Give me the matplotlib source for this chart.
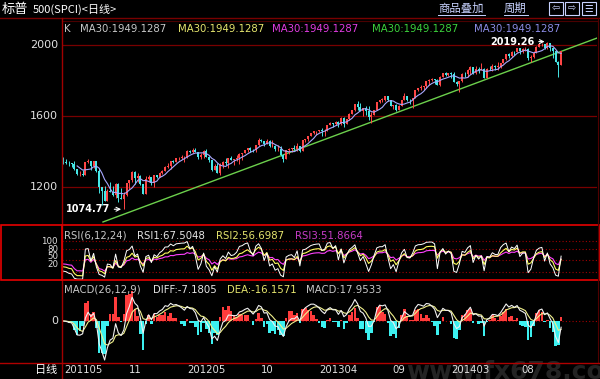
import numpy as np
import pandas as pd
import matplotlib
matplotlib.use("Agg")
import matplotlib.pyplot as plt
from matplotlib.lines import Line2D
from matplotlib.patches import Rectangle
from matplotlib.transforms import blended_transform_factory

plt.rcParams['font.family'] = ['DejaVu Sans', 'Noto Sans CJK SC']

# S&P 500 weekly bars, week ending 2011-05-06 .. 2014-10-24
close = [
    1340, 1338, 1333, 1331, 1300, 1271, 1271, 1268, 1340, 1344, 1316, 1345, 1292,
    1199, 1179, 1124, 1177, 1174, 1154, 1216, 1136, 1131, 1155, 1225, 1238, 1285,
    1253, 1264, 1216, 1159, 1244, 1255, 1220, 1265, 1258,
    1278, 1289, 1315, 1316, 1345, 1343, 1362, 1366, 1370, 1371, 1404, 1397, 1408,
    1398, 1370, 1378, 1403, 1369, 1353, 1295, 1318, 1278, 1325, 1343, 1335, 1362,
    1355, 1357, 1363, 1386, 1391, 1406, 1418, 1411, 1407, 1438, 1466, 1460, 1441,
    1461, 1429, 1433, 1412, 1414, 1380, 1360, 1409, 1416, 1418, 1414, 1430, 1402,
    1466, 1472, 1486, 1503, 1513, 1518, 1520, 1516, 1518, 1551, 1561, 1556, 1569,
    1553, 1588, 1555, 1582, 1614, 1633, 1667, 1650, 1631, 1643, 1626, 1593, 1606,
    1632, 1680, 1692, 1692, 1710, 1691, 1656, 1664, 1633, 1655, 1688, 1710, 1692,
    1691, 1703, 1745, 1760, 1762, 1770, 1798, 1804, 1806, 1805, 1775, 1818, 1841,
    1831, 1842, 1839, 1790, 1783, 1797, 1838, 1836, 1859, 1878, 1841, 1866, 1857,
    1865, 1815, 1865, 1863, 1881, 1878, 1878, 1900, 1924, 1949, 1937, 1963, 1961,
    1985, 1968, 1978, 1978, 1925, 1931, 1955, 1988, 2003, 2008, 1985, 2010, 1982,
    1968, 1906, 1887, 1964,
]
high = [
    1370, 1359, 1346, 1337, 1346, 1302, 1292, 1298, 1341, 1356, 1340, 1347, 1345,
    1307, 1199, 1208, 1190, 1230, 1204, 1220, 1220, 1195, 1171, 1225, 1239, 1293,
    1292, 1277, 1265, 1217, 1262, 1267, 1255, 1268, 1270,
    1285, 1297, 1316, 1333, 1346, 1354, 1363, 1368, 1378, 1374, 1406, 1410, 1419,
    1422, 1399, 1392, 1406, 1415, 1372, 1354, 1328, 1334, 1335, 1345, 1364, 1363,
    1375, 1358, 1381, 1390, 1394, 1407, 1419, 1426, 1413, 1438, 1475, 1469, 1460,
    1470, 1464, 1464, 1437, 1434, 1433, 1388, 1409, 1420, 1420, 1439, 1448, 1430,
    1467, 1473, 1486, 1503, 1514, 1518, 1524, 1530, 1525, 1552, 1564, 1563, 1570,
    1574, 1597, 1593, 1585, 1619, 1636, 1667, 1687, 1674, 1646, 1654, 1654, 1620,
    1632, 1680, 1693, 1699, 1710, 1709, 1693, 1664, 1670, 1664, 1693, 1730, 1711,
    1696, 1704, 1745, 1760, 1775, 1770, 1799, 1806, 1813, 1806, 1811, 1823, 1844,
    1849, 1843, 1850, 1850, 1799, 1798, 1841, 1847, 1867, 1883, 1879, 1883, 1875,
    1897, 1873, 1869, 1884, 1891, 1889, 1902, 1901, 1924, 1950, 1955, 1968, 1968,
    1985, 1985, 1983, 1991, 1984, 1942, 1964, 1993, 2005, 2011, 2008, 2019.26, 2008,
    1985, 1970, 1912, 1965,
]
low = [
    1330, 1330, 1318, 1311, 1297, 1268, 1262, 1262, 1268, 1333, 1295, 1305, 1282,
    1168, 1101, 1122, 1123, 1170, 1150, 1136, 1114, 1131, 1074.77, 1148, 1191, 1230,
    1216, 1226, 1209, 1158, 1158, 1231, 1209, 1202, 1248,
    1259, 1274, 1290, 1306, 1300, 1337, 1340, 1355, 1360, 1340, 1365, 1389, 1392,
    1395, 1357, 1358, 1366, 1367, 1343, 1292, 1296, 1277, 1267, 1306, 1324, 1309,
    1354, 1325, 1345, 1329, 1354, 1389, 1400, 1398, 1397, 1396, 1429, 1454, 1430,
    1440, 1425, 1427, 1403, 1402, 1373, 1343, 1363, 1385, 1399, 1411, 1405, 1398,
    1401, 1451, 1462, 1485, 1496, 1495, 1510, 1486, 1485, 1514, 1547, 1538, 1547,
    1540, 1548, 1536, 1555, 1577, 1613, 1626, 1635, 1629, 1598, 1608, 1577, 1560,
    1605, 1632, 1672, 1680, 1684, 1684, 1654, 1639, 1627, 1633, 1656, 1688, 1687,
    1670, 1646, 1700, 1740, 1746, 1746, 1760, 1777, 1800, 1779, 1772, 1767, 1819,
    1827, 1823, 1815, 1790, 1770, 1738, 1791, 1820, 1821, 1835, 1839, 1839, 1840,
    1864, 1814, 1816, 1859, 1851, 1859, 1862, 1868, 1900, 1915, 1925, 1930, 1944,
    1958, 1952, 1955, 1965, 1916, 1905, 1928, 1953, 1988, 1995, 1980, 1978, 1965,
    1926, 1906, 1821, 1886,
]
first_open = 1364

# trend line anchors (week index, price) as drawn on the chart
trend_x = [14.4, 194.0]
trend_y = [1003, 2039]

price_ticks = [2000, 1600, 1200]
rsi_levels = [100, 80, 50, 20]
date_months = ['2011-05', '2011-11', '2012-05', '2012-10', '2013-04', '2013-09', '2014-03', '2014-08']
date_labels = ['201105', '11', '201205', '10', '201304', '09', '201403', '08']

ma_header = ['MA30:1949.1287'] * 5
ma_colors = ['#c8c8c8', '#e6e66e', '#e23ce2', '#3cd23c', '#8c8ce6']

close = np.array(close, float)
high = np.array(high, float)
low = np.array(low, float)
opn = np.r_[first_open, close[:-1]]
n = len(close)
idx = np.arange(n)
weeks = pd.date_range('2011-05-06', periods=n, freq='W-FRI')

W, H = 600, 379
fig = plt.figure(figsize=(6, 3.79), dpi=100, facecolor='black')


def rect(x0, y0, x1, y1):
    return [x0 / W, 1 - y1 / H, (x1 - x0) / W, (y1 - y0) / H]


def ftext(x, y, s, color, size=7.3, ha='left', va='center', **kw):
    return fig.text(x / W, 1 - y / H, s, color=color, fontsize=size, ha=ha, va=va, **kw)


def fline(x0, y0, x1, y1, color, lw=1.0, **kw):
    fig.add_artist(Line2D([x0 / W, x1 / W], [1 - y0 / H, 1 - y1 / H], color=color, lw=lw, **kw))


ax_k = fig.add_axes(rect(62, 20, 597, 225))
ax_r = fig.add_axes(rect(62, 225, 597, 280))
ax_m = fig.add_axes(rect(62, 280, 597, 362))
for ax in (ax_k, ax_r, ax_m):
    ax.set_facecolor('black')
    ax.set_axis_off()
    ax.set_xlim(-0.5, 194.05)

# watermark
ftext(406, 372, 'www.fx678.com', '#232323', size=18, weight='bold', zorder=0)

# ---- K line panel
ax_k.set_ylim(986, 2141)
for p in price_ticks:
    ax_k.axhline(p, color='#780000', lw=0.9, zorder=0)
ax_k.plot(trend_x, trend_y, color='#6cd04c', lw=1.0, zorder=1)

up = close >= opn
body_lo = np.minimum(opn, close)
body_hi = np.maximum(opn, close)
cols = np.where(up, '#ff4646', '#46e6e6')
ax_k.vlines(idx, np.minimum(low, body_lo), np.maximum(high, body_hi), colors=cols, lw=0.7, zorder=2)
ax_k.bar(idx, np.maximum(body_hi - body_lo, 1.5), bottom=body_lo, width=0.65, color=cols, lw=0, zorder=3)

ma = pd.Series(close).rolling(6).mean()
ax_k.plot(idx, ma, color='#a8a8ff', lw=0.8, zorder=4)

i_lo = int(np.argmin(low))
i_hi = int(np.argmax(high))
for i, v, dx in ((i_lo, low[i_lo], -58), (i_hi, high[i_hi], -57)):
    ax_k.annotate(f'{v:.2f}', xy=(i, v), xytext=(dx, 0), textcoords='offset pixels',
                  color='white', fontsize=7, weight='bold', va='center', zorder=6,
                  arrowprops=dict(arrowstyle='->', color='white', lw=0.8, shrinkA=1, shrinkB=2))

ktr = blended_transform_factory(fig.transFigure, ax_k.transData)
for p in price_ticks:
    fig.text(58 / W, p, str(p), transform=ktr, color='#e0e0e0', fontsize=8, ha='right', va='center')

ftext(64, 29, 'K', '#c8c8c8')
hx = [80, 178, 272, 372, 474]
for x, s, c in zip(hx, ma_header, ma_colors):
    ftext(x, 29, s, c)

# ---- RSI panel


def rsi(c, period, seed=10.0):
    d = np.diff(c, prepend=first_open)
    g, t = seed / 2, seed
    out = []
    for v in d:
        g += (max(v, 0) - g) / period
        t += (abs(v) - t) / period
        out.append(100 * g / t)
    return np.array(out)


ax_r.set_ylim(0, 141)
for v in rsi_levels:
    ax_r.axhline(v, color='#a00000', lw=0.8, ls=(0, (1, 2)), zorder=0)
ax_r.plot(idx, rsi(close, 12), color='#ff40ff', lw=0.8, zorder=2)
ax_r.plot(idx, rsi(close, 6), color='#ffff60', lw=0.8, zorder=3)
ax_r.plot(idx, rsi(close, 3), color='#ffffff', lw=0.7, zorder=4)
for k, v in enumerate(rsi_levels):
    ftext(58, 241.7 + k * 7.45, str(v), '#e0e0e0', size=6.2, ha='right')

ftext(64, 236, 'RSI(6,12,24)', '#c8c8c8')
ftext(137, 236, 'RSI1:67.5048', '#e6e6e6')
ftext(216, 236, 'RSI2:56.6987', '#e6e66e')
ftext(295, 236, 'RSI3:51.8664', '#c83cc8')

# ---- MACD panel
s = pd.Series(close)
diff = (s.ewm(span=3, adjust=False).mean() - s.ewm(span=6, adjust=False).mean()).values
dea = pd.Series(diff).ewm(span=5, adjust=False).mean().values
hist = 2 * (diff - dea)
m = 1.05 * np.max(np.abs(np.r_[diff, dea, hist]))
ax_m.set_ylim(-m, m)
ax_m.axhline(0, color='#a00000', lw=0.8, ls=(0, (1, 2)), zorder=0)
ax_m.bar(idx, hist, width=0.9, color=np.where(hist >= 0, '#ff3c3c', '#3cf0f0'), lw=0, zorder=1)
ax_m.plot(idx, diff, color='#f0f0f0', lw=0.8, zorder=3)
ax_m.plot(idx, dea, color='#f0f08c', lw=0.8, zorder=2)
mtr = blended_transform_factory(fig.transFigure, ax_m.transData)
fig.text(58 / W, 0, '0', transform=mtr, color='#e0e0e0', fontsize=8, ha='right', va='center')

ftext(64, 290, 'MACD(26,12,9)', '#c8c8c8')
ftext(153, 290, 'DIFF:-7.1805', '#e6e6e6')
ftext(227, 290, 'DEA:-16.1571', '#e6e66e')
ftext(306, 290, 'MACD:17.9533', '#c8c8c8')

# ---- date axis
dtr = blended_transform_factory(ax_m.transData, fig.transFigure)
for mon, lab in zip(date_months, date_labels):
    i = int(np.argmax(weeks.strftime('%Y-%m') == mon))
    if i == 0:
        ftext(64, 370, lab, '#e0e0e0', size=7.3)
    else:
        fig.text(i, 1 - 370 / H, lab, transform=dtr, color='#e0e0e0', fontsize=7.3,
                 ha='center', va='center')
ftext(57, 370, '日线', '#ffffff', size=8, ha='right', family='Noto Sans CJK SC')

# ---- header bar
ftext(2, 9, '标普', '#ffffff', size=9.5, family='Noto Sans CJK SC')
ftext(33, 9.5, '500(SPCI)<日线>', '#ffffff', size=8, family='Noto Sans CJK SC')
ftext(438, 8, '商品叠加', '#c8d2ff', size=8.2, family='Noto Sans CJK SC')
ftext(504, 8, '周期', '#c8d2ff', size=8.2, family='Noto Sans CJK SC')
fline(438, 15, 485, 15, '#c8d2ff', lw=0.7)
fline(504, 15, 528, 15, '#c8d2ff', lw=0.7)
for x0, sym in zip([549, 565, 582], ['⇦', '⇨', '☰']):
    fig.add_artist(Rectangle((x0 / W, 1 - 15 / H), 14 / W, 13 / H, fill=False,
                             edgecolor='#c8d2ff', lw=0.8, transform=fig.transFigure))
    ftext(x0 + 7, 8.5, sym, '#c8d2ff', size=7, ha='center', family='DejaVu Sans')

# ---- frame lines
fline(0, 17.5, 600, 17.5, '#780000', lw=1.0)
fline(62, 20.5, 597, 20.5, '#4a0000', lw=0.8)
fline(62, 17.5, 62, 379, '#a00000', lw=1.0)
fline(597.5, 17.5, 597.5, 362, '#500000', lw=0.8)
fline(0, 362.5, 600, 362.5, '#b00000', lw=1.0)
fig.add_artist(Rectangle((0.8 / W, 1 - 280 / H), 598.4 / W, 55 / H, fill=False,
                         edgecolor='#e60000', lw=1.2, transform=fig.transFigure))
fline(62, 225, 62, 280, '#e60000', lw=1.2)

fig.savefig('out.png', dpi=100, facecolor='black')
